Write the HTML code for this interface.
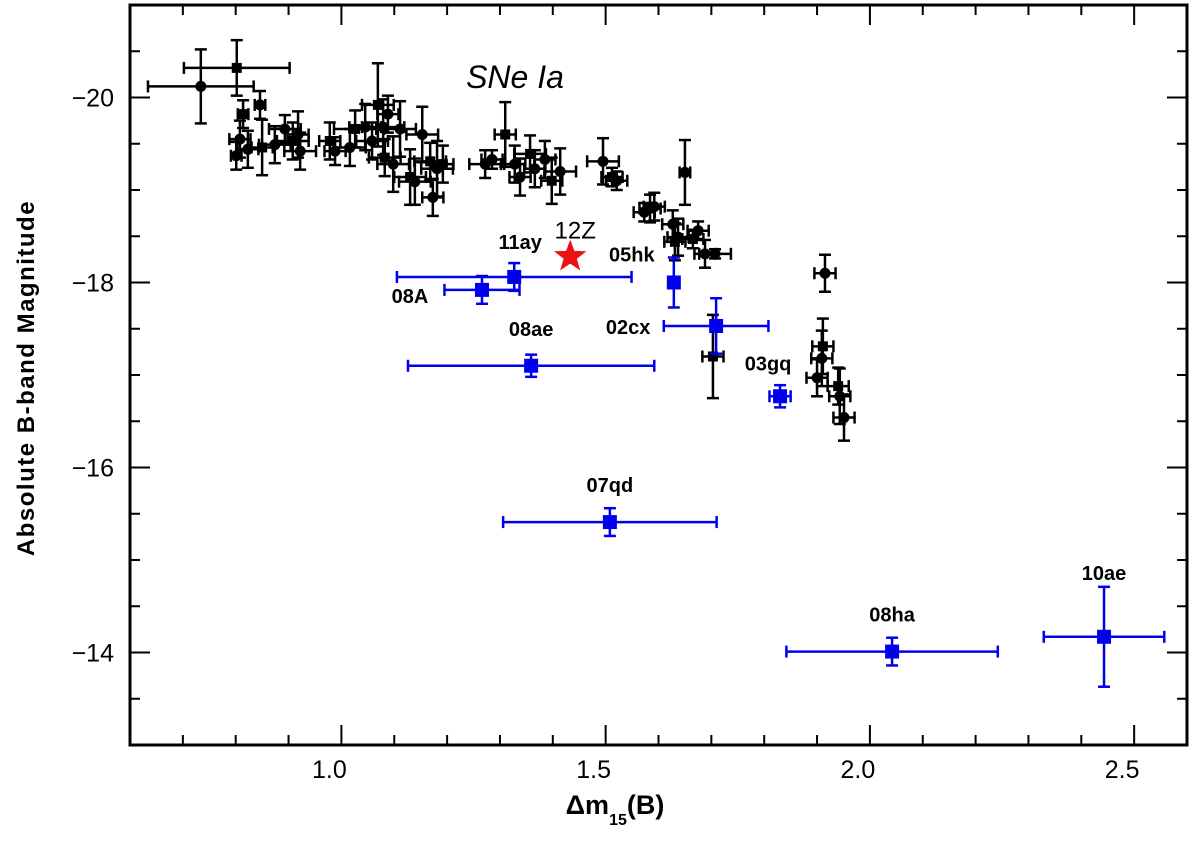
<!DOCTYPE html>
<html><head><meta charset="utf-8"><style>
body{margin:0;background:#fff}
svg text{font-family:"Liberation Sans",sans-serif}
</style></head><body>
<svg id="c" width="1200" height="854" xmlns="http://www.w3.org/2000/svg"></svg>
<script>
const bx=[0.734,0.802,0.801,0.808,0.814,0.846,0.823,0.850,0.874,0.893,0.908,0.922,0.918,0.978,0.988,1.016,1.026,1.045,1.058,1.069,1.079,1.088,1.082,1.098,1.111,1.130,1.139,1.153,1.168,1.173,1.181,1.192,1.272,1.285,1.310,1.328,1.338,1.357,1.366,1.385,1.398,1.414,1.495,1.512,1.521,1.573,1.584,1.592,1.627,1.631,1.637,1.650,1.665,1.675,1.688,1.703,1.707,1.915,1.911,1.900,1.909,1.940,1.943,1.951];
const by=[-20.12,-20.32,-19.37,-19.55,-19.82,-19.92,-19.44,-19.46,-19.49,-19.66,-19.53,-19.42,-19.60,-19.53,-19.42,-19.46,-19.66,-19.68,-19.53,-19.92,-19.68,-19.82,-19.35,-19.28,-19.66,-19.14,-19.09,-19.60,-19.31,-18.92,-19.23,-19.28,-19.28,-19.33,-19.60,-19.28,-19.14,-19.39,-19.23,-19.33,-19.10,-19.20,-19.31,-19.14,-19.10,-18.76,-18.80,-18.82,-18.63,-18.44,-18.49,-19.19,-18.47,-18.56,-18.31,-17.20,-18.31,-18.10,-17.31,-16.97,-17.18,-16.88,-16.77,-16.54];
const bxe=[0.10,0.10,0.01,0.02,0.01,0.01,0.02,0.02,0.03,0.03,0.03,0.03,0.02,0.02,0.02,0.03,0.04,0.03,0.03,0.03,0.04,0.02,0.03,0.03,0.03,0.03,0.03,0.03,0.03,0.02,0.03,0.02,0.03,0.02,0.02,0.02,0.02,0.03,0.02,0.02,0.02,0.03,0.03,0.02,0.02,0.02,0.02,0.02,0.02,0.02,0.02,0.01,0.02,0.02,0.02,0.02,0.03,0.02,0.02,0.02,0.02,0.02,0.02,0.02];
const bye=[0.4,0.3,0.15,0.2,0.15,0.15,0.2,0.3,0.2,0.15,0.2,0.2,0.25,0.2,0.15,0.2,0.2,0.25,0.2,0.45,0.3,0.2,0.2,0.3,0.3,0.3,0.25,0.3,0.2,0.2,0.3,0.2,0.15,0.1,0.35,0.2,0.2,0.2,0.2,0.2,0.25,0.25,0.25,0.1,0.1,0.1,0.15,0.15,0.15,0.2,0.2,0.35,0.1,0.1,0.15,0.45,0.05,0.2,0.3,0.2,0.3,0.2,0.3,0.25];
const names=["08A","11ay","05hk","02cx","08ae","03gq","07qd","08ha","10ae"];
const ux=[1.266,1.327,1.629,1.709,1.359,1.830,1.508,2.042,2.443];
const uy=[-17.92,-18.06,-18.0,-17.53,-17.1,-16.77,-15.41,-14.01,-14.17];
const uxe=[0.071,0.222,0.0,0.099,0.233,0.02,0.202,0.2,0.114];
const uye=[0.15,0.15,0.27,0.3,0.12,0.12,0.15,0.15,0.54];
const lblDx=[-72,6,-42,-88,0,-12,0,0,0];
const lblDy=[13,-28,-21,8,-30,-26,-30,-30,-57];
const starX=1.433, starY=-18.28;
const xTicks=[1.0,1.5,2.0,2.5];
const yTicks=[-20,-18,-16,-14];

const L=130,R=1187,T=5,B=745;
const X=v=>L+(v-0.6)/2*(R-L);
const Y=v=>T+(v+21)/8*(B-T);
const svg=document.getElementById('c');
const NS='http://www.w3.org/2000/svg';
function mk(tag,at,parent){const e=document.createElementNS(NS,tag);for(const k in at)e.setAttribute(k,at[k]);(parent||svg).appendChild(e);return e;}

const frame=mk('rect',{x:L,y:T,width:R-L,height:B-T,fill:'none',stroke:'#000','stroke-width':3});



const ax=mk('g',{stroke:'#000','stroke-width':2});


for(let i=0;i<=20;i++){const v=0.6+i*0.1;const px=X(v);const major=Math.abs(v*2-Math.round(v*2))<1e-6;const len=major?20:10;
  mk('line',{x1:px,y1:B,x2:px,y2:B-len},ax);mk('line',{x1:px,y1:T,x2:px,y2:T+len},ax);}
for(let i=0;i<=16;i++){const v=-21+i*0.5;const py=Y(v);const major=Math.abs(v/2-Math.round(v/2))<1e-6;const len=major?20:10;
  mk('line',{x1:L,y1:py,x2:L+len,y2:py},ax);mk('line',{x1:R,y1:py,x2:R-len,y2:py},ax);}

xTicks.forEach(v=>{const t=mk('text',{x:X(v)-12,y:778,'text-anchor':'middle','font-size':25});t.textContent=v.toFixed(1);
  
  });
yTicks.forEach(v=>{const t=mk('text',{x:114,y:Y(v)+9,'text-anchor':'end','font-size':25});t.textContent=String(v).replace('-','\u2212');
  
  });

const xt=mk('text',{x:615,y:814,'text-anchor':'middle','font-size':27,'font-weight':'bold'});
xt.innerHTML='Δm<tspan font-size="16" dy="11">15</tspan><tspan dy="-11">(B)</tspan>';


const yt=mk('text',{x:34,y:378,'text-anchor':'middle','font-size':24,'font-weight':'bold','letter-spacing':'1.5',transform:'rotate(-90 34 378)','font-family':'Liberation Mono, monospace'});
yt.textContent='Absolute B-band Magnitude';


const st=mk('text',{x:515,y:88,'text-anchor':'middle','font-size':32,'font-style':'italic','font-family':'Liberation Serif, serif'});
st.textContent='SNe Ia';



function errbar(g,x,y,xe,ye,col){
  const a={stroke:col,'stroke-width':2.5};
  if(xe>0){mk('line',Object.assign({x1:X(x-xe),y1:Y(y),x2:X(x+xe),y2:Y(y)},a),g);
    mk('line',Object.assign({x1:X(x-xe),y1:Y(y)-6,x2:X(x-xe),y2:Y(y)+6},a),g);
    mk('line',Object.assign({x1:X(x+xe),y1:Y(y)-6,x2:X(x+xe),y2:Y(y)+6},a),g);}
  mk('line',Object.assign({x1:X(x),y1:Y(y-ye),x2:X(x),y2:Y(y+ye)},a),g);
  mk('line',Object.assign({x1:X(x)-6,y1:Y(y-ye),x2:X(x)+6,y2:Y(y-ye)},a),g);
  mk('line',Object.assign({x1:X(x)-6,y1:Y(y+ye),x2:X(x)+6,y2:Y(y+ye)},a),g);
}
for(let i=0;i<bx.length;i++){
  const g=mk('g',{});
  
  
  errbar(g,bx[i],by[i],bxe[i],bye[i],'#000');
  if(i%3==1)mk('rect',{x:X(bx[i])-5,y:Y(by[i])-5,width:10,height:10,fill:'#000'},g);
  else mk('circle',{cx:X(bx[i]),cy:Y(by[i]),r:5.5,fill:'#000'},g);
}
for(let i=0;i<ux.length;i++){
  const g=mk('g',{});
  
  
  errbar(g,ux[i],uy[i],uxe[i],uye[i],'#0000ee');
  mk('rect',{x:X(ux[i])-7,y:Y(uy[i])-7,width:14,height:14,fill:'#0000ee'},g);
  const t=mk('text',{x:X(ux[i])+lblDx[i],y:Y(uy[i])+lblDy[i],'text-anchor':'middle','font-size':20,'font-weight':'bold'},g);
  t.textContent=names[i];
}
const s=mk('g',{});


const cx=X(starX),cy=Y(starY);let pts=[];
for(let k=0;k<10;k++){const r=k%2?7:17;const a=-Math.PI/2+k*Math.PI/5;pts.push((cx+r*Math.cos(a)).toFixed(1)+','+(cy+r*Math.sin(a)).toFixed(1));}
mk('polygon',{points:pts.join(' '),fill:'#ee1111'},s);
const zt=mk('text',{x:cx+5,y:cy-18,'text-anchor':'middle','font-size':24},s);zt.textContent='12Z';
</script>
</body></html>
